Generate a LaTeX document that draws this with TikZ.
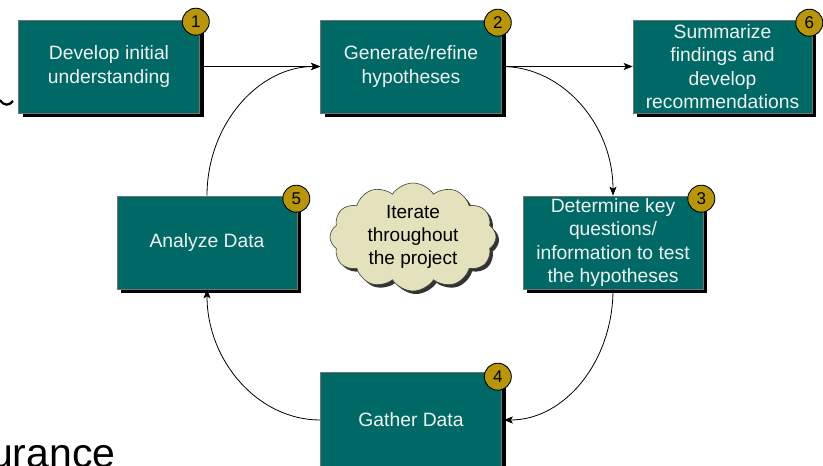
\documentclass[tikz,border=0pt]{standalone}
\usepackage{fontspec}
\setmainfont{Liberation Sans}
\usetikzlibrary{shapes.symbols,shadows,arrows.meta,calc}
\definecolor{boxteal}{HTML}{006966}
\definecolor{badgegold}{HTML}{B8960C}
\definecolor{cloudcream}{HTML}{E4E2BC}
\definecolor{boxtext}{HTML}{EEF2F0}
\begin{document}
\begin{tikzpicture}[x=1pt,y=-1pt,
  box/.style={draw=black!55, line width=0.6pt, fill=boxteal, text=boxtext,
    font=\fontsize{19.3}{23.3}\selectfont, align=center, inner sep=0pt,
    minimum width=181pt, minimum height=93pt,
    drop shadow={shadow xshift=4pt,shadow yshift=-4pt,fill=black,opacity=1}},
  badge/.style={circle, draw=black, line width=0.9pt, fill=badgegold,
    minimum size=27pt, inner sep=0pt, font=\fontsize{17}{17}\selectfont},
  conn/.style={line width=0.8pt, -{Stealth[length=9pt,width=7pt,inset=2pt]}}]
\path[use as bounding box] (0,0) rectangle (823,466);
\clip (0,0) rectangle (823,466);

% background fragments
\draw[line width=2.2pt] (0,100) .. controls (4,106) and (9,106) .. (13,101);
\node[anchor=base west, font=\fontsize{41}{41}\selectfont, inner sep=0pt] (ur) at (-10,467) {urance};

% boxes
\node[box] (b1) at (109,66.5) {Develop initial\\understanding};
\node[box] (b2) at (411,66.5) {Generate/refine\\hypotheses};
\node[box, minimum width=179pt] (b6) at (722.5,66.5) {Summarize\\findings and\\develop\\recommendations};
\node[box, minimum width=180pt] (b3) at (613,242.5) {Determine key\\questions/\\information to test\\the hypotheses};
\node[box, minimum width=180pt] (b5) at (207,242.5) {Analyze Data};
\node[box, minimum height=96pt] (b4) at (411,420) {Gather Data};

% cloud
\node[cloud, cloud puffs=12, cloud puff arc=115, aspect=1.55, draw=black!75, line width=0.6pt,
  fill=cloudcream, minimum width=166pt, minimum height=108pt, inner sep=0pt, align=center,
  font=\fontsize{19}{23}\selectfont,
  drop shadow={shadow xshift=3pt,shadow yshift=-3pt,fill=black!80,opacity=1}]
  (it) at (413,237) {Iterate\\throughout\\the project};

% badges
\node[badge] (n1) at ($(b1.north east)+(-4,2)$) {1};
\node[badge] (n2) at ($(b2.north east)+(-4,3)$) {2};
\node[badge] (n6) at ($(b6.north east)+(-3,3)$) {6};
\node[badge] (n3) at ($(b3.north east)+(-2,3)$) {3};
\node[badge] (n5) at ($(b5.north east)+(-1,3)$) {5};
\node[badge] (n4) at ($(b4.north east)+(-4,5)$) {4};

% connectors
\draw[conn] (b1.east) -- (b2.west);
\draw[conn] (b2.east) -- (b6.west);
\draw[conn] (b2.east) .. controls +(61,0) and +(0,-71) .. (b3.north);
\draw[conn] (b3.south) .. controls +(0,72) and +(61,0) .. ([xshift=2pt]b4.east);
\draw[conn] (b4.west) .. controls +(-62,0) and +(0,72) .. (b5.south);
\draw[conn] (b5.north) .. controls +(0,-71) and +(-62,0) .. (b2.west);
\end{tikzpicture}
\end{document}
